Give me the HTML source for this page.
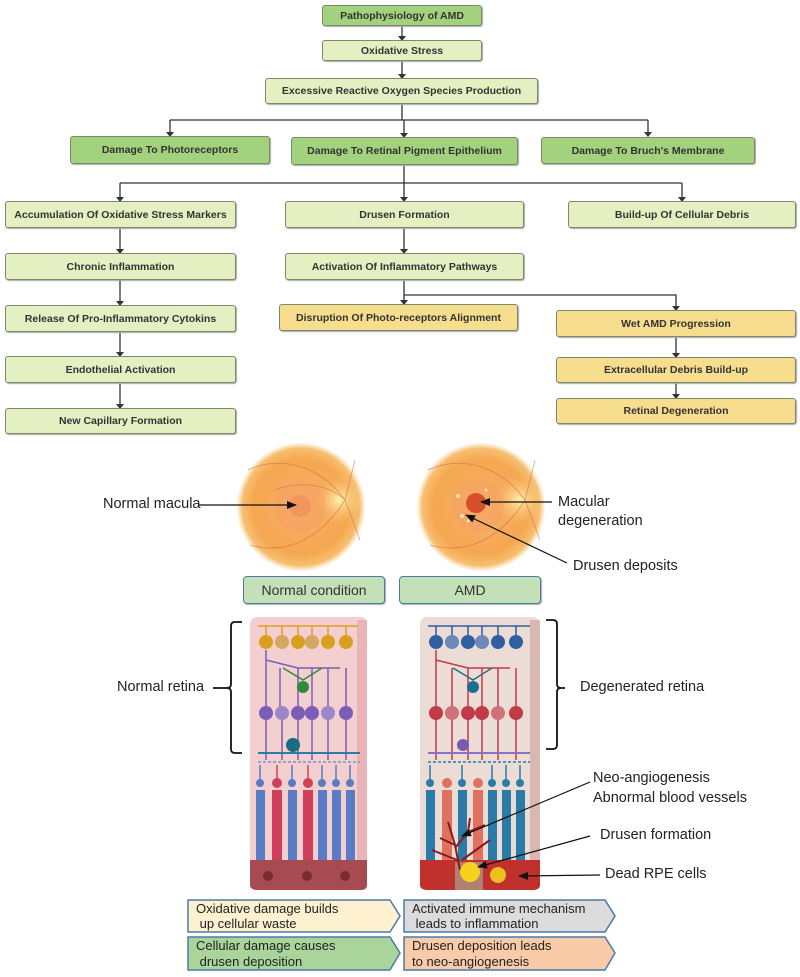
<!DOCTYPE html>
<html><head><meta charset="utf-8"><style>
body{margin:0;background:#fff;width:800px;height:977px;position:relative;overflow:hidden;font-family:"Liberation Sans",sans-serif}
.b{position:absolute;box-sizing:border-box;border:1.5px solid #7a8a6a;border-radius:3px;display:flex;align-items:center;justify-content:center;font-size:10.5px;font-weight:bold;color:#333;text-align:center;box-shadow:1px 1px 1px #aaa}
.g{background:#a3d27f}.l{background:#e4efc2}.y{background:#f7dd8e}
.t{position:absolute;font-size:14.5px;color:#222}
</style></head><body>
<svg width="800" height="977" style="position:absolute;left:0;top:0">
<defs>
<marker id="b" markerWidth="10" markerHeight="10" refX="9" refY="5" orient="auto" markerUnits="userSpaceOnUse"><path d="M0,1 L10,5 L0,9z" fill="#111"/></marker>
<radialGradient id="eye"><stop offset="0" stop-color="#f8b070"/><stop offset="0.75" stop-color="#f5a850"/><stop offset="0.92" stop-color="#f7bf72"/><stop offset="1" stop-color="#fbe0b0" stop-opacity="0.3"/></radialGradient>
<radialGradient id="disc"><stop offset="0" stop-color="#fff4b0"/><stop offset="1" stop-color="#f8c070" stop-opacity="0"/></radialGradient>
</defs>
<g stroke="#333" stroke-width="1.3" fill="none">
<path d="M402 26V40M402 61V78M402 104V120M170 120H648M170 120V136M404 120V137M648 120V136"/>
<path d="M404 165V183M120 183H682M120 183V201M404 183V201M682 183V201"/>
<path d="M120 228V253M120 280V305M120 332V356M120 383V408M404 228V253M404 280V304M404 295H676V310M676 337V357M676 383V398"/>
</g>
<g fill="#333"><path d="M398 36h8l-4 5zM398 74h8l-4 5zM166 132h8l-4 5zM400 133h8l-4 5zM644 132h8l-4 5zM116 197h8l-4 5zM400 197h8l-4 5zM678 197h8l-4 5zM116 249h8l-4 5zM116 301h8l-4 5zM116 352h8l-4 5zM116 404h8l-4 5zM400 249h8l-4 5zM400 300h8l-4 5zM672 306h8l-4 5zM672 353h8l-4 5zM672 394h8l-4 5z"/></g>

<!-- eyes -->
<g>
<circle cx="301" cy="507" r="64" fill="url(#eye)"/>
<circle cx="340" cy="500" r="24" fill="url(#disc)"/>
<circle cx="300" cy="506" r="26" fill="#f59a60" opacity=".35"/>
<circle cx="300" cy="506" r="11" fill="#f08a55" opacity=".6"/>
<g stroke="#d0603a" stroke-width="0.8" fill="none" opacity=".6"><path d="M345 500C320 465 280 455 248 470M345 500C320 540 285 555 250 545M345 500L355 460M345 500L360 540M345 500C330 485 300 480 275 490"/></g>
<circle cx="481" cy="507" r="64" fill="url(#eye)"/>
<circle cx="520" cy="500" r="24" fill="url(#disc)"/>
<circle cx="478" cy="506" r="26" fill="#f59a60" opacity=".35"/>
<circle cx="476" cy="503" r="10" fill="#d04020" opacity=".85"/>
<g fill="#fbe0c0"><circle cx="458" cy="496" r="2"/><circle cx="462" cy="516" r="2"/><circle cx="468" cy="521" r="1.5"/><circle cx="486" cy="490" r="1.5"/></g>
<g stroke="#d0603a" stroke-width="0.8" fill="none" opacity=".6"><path d="M525 500C500 465 460 455 428 470M525 500C500 540 465 555 430 545M525 500L535 460M525 500L540 540"/></g>
</g>
<g stroke="#111" stroke-width="1.8" fill="none"><path d="M242 622H235Q231 622 231 626V684Q231 688 227 688H213M227 688Q231 688 231 692V749Q231 753 235 753H242"/><path d="M546 620H553Q557 620 557 624V684Q557 688 561 688H565M561 688Q557 688 557 692V745Q557 749 553 749H546"/></g>

<!-- left retina -->
<path d="M250 625Q250 617 258 617H360Q367 617 367 625V885Q367 890 360 890H258Q250 890 250 885Z" fill="#f3cfd0"/>
<path d="M357 620H367V885Q367 890 360 890H357Z" fill="#e8b4b8"/>
<g stroke-width="1.5" fill="none">
<path d="M258 626H358" stroke="#d9a020"/>
<g stroke="#d9a020"><path d="M266 626V642M282 626V642M298 626V642M312 626V642M328 626V642M346 626V642"/></g>
<path d="M266 660L298 668H340M280 668V713M298 668V713M312 668V713M328 668V713M346 668V713M266 650V713" stroke="#7b5db8"/>
<path d="M283 668L303 680L322 668" stroke="#2e8b3a"/>
<path d="M266 713V760M282 713V760M298 713V760M312 713V760M328 713V760M346 713V760" stroke="#7b5db8"/>
<path d="M258 753H360" stroke="#2a7ba8" stroke-width="2"/>
<path d="M258 762H360" stroke="#8090c8" stroke-dasharray="3 2"/>
</g>
<g fill="#d9a020"><circle cx="266" cy="642" r="7"/><circle cx="282" cy="642" r="7" fill="#d4a860"/><circle cx="298" cy="642" r="7"/><circle cx="312" cy="642" r="7" fill="#d4a860"/><circle cx="328" cy="642" r="7"/><circle cx="346" cy="642" r="7"/></g>
<circle cx="303" cy="687" r="6" fill="#2e8b3a"/>
<g fill="#7b5db8"><circle cx="266" cy="713" r="7"/><circle cx="282" cy="713" r="7" fill="#9a88c8"/><circle cx="298" cy="713" r="7"/><circle cx="312" cy="713" r="7"/><circle cx="328" cy="713" r="7" fill="#9a88c8"/><circle cx="346" cy="713" r="7"/></g>
<circle cx="293" cy="745" r="7" fill="#176d82"/>
<g>
<g fill="#5a7cc4"><rect x="256" y="790" width="9" height="70"/><rect x="288" y="790" width="9" height="70"/><rect x="318" y="790" width="9" height="70"/><rect x="332" y="790" width="9" height="70"/><rect x="346" y="790" width="9" height="70"/>
<circle cx="260" cy="783" r="4"/><circle cx="292" cy="783" r="4"/><circle cx="322" cy="783" r="4"/><circle cx="336" cy="783" r="4"/><circle cx="350" cy="783" r="4"/></g>
<g fill="#d0405a"><rect x="272" y="790" width="10" height="70"/><rect x="303" y="790" width="10" height="70"/><circle cx="277" cy="783" r="5"/><circle cx="308" cy="783" r="5"/></g>
<g stroke="#5a7cc4" stroke-width="1.5"><path d="M260 765V780M292 765V780M322 765V780M336 765V780M350 765V780"/></g>
<g stroke="#d0405a" stroke-width="1.5"><path d="M277 765V780M308 765V780"/></g>
</g>
<path d="M250 860H367V885Q367 890 360 890H258Q250 890 250 885Z" fill="#a84a52"/>
<g fill="#7a2a32"><circle cx="268" cy="876" r="5"/><circle cx="307" cy="876" r="5"/><circle cx="345" cy="876" r="5"/></g>

<!-- right retina -->
<path d="M420 625Q420 617 428 617H532Q540 617 540 625V885Q540 890 532 890H428Q420 890 420 885Z" fill="#ecdcd6"/>
<path d="M530 620H540V885Q540 890 532 890H530Z" fill="#d8b8b0"/>
<g stroke-width="1.5" fill="none">
<path d="M428 626H530" stroke="#2f5f9e"/>
<g stroke="#2f5f9e"><path d="M436 626V642M452 626V642M468 626V642M482 626V642M498 626V642M516 626V642"/></g>
<path d="M453 668L473 680L492 668" stroke="#1d6f8a"/>
<path d="M436 650V760M452 668V760M468 668V760M482 668V760M498 668V760M516 668V760M436 660L468 668H510" stroke="#c03a48"/>
<path d="M428 753H530" stroke="#8a70c0" stroke-width="2"/>
<path d="M428 762H530" stroke="#2a7ba8" stroke-dasharray="3 2"/>
</g>
<g fill="#2f5f9e"><circle cx="436" cy="642" r="7"/><circle cx="452" cy="642" r="7" fill="#6a88b8"/><circle cx="468" cy="642" r="7"/><circle cx="482" cy="642" r="7" fill="#6a88b8"/><circle cx="498" cy="642" r="7"/><circle cx="516" cy="642" r="7"/></g>
<circle cx="473" cy="687" r="6" fill="#1d6f8a"/>
<g fill="#c03a48"><circle cx="436" cy="713" r="7"/><circle cx="452" cy="713" r="7" fill="#d07078"/><circle cx="468" cy="713" r="7"/><circle cx="482" cy="713" r="7"/><circle cx="498" cy="713" r="7" fill="#d07078"/><circle cx="516" cy="713" r="7"/></g>
<circle cx="463" cy="745" r="6" fill="#7a5ab0"/>
<g>
<g fill="#2a7ba8"><rect x="426" y="790" width="9" height="70"/><rect x="458" y="790" width="9" height="70"/><rect x="488" y="790" width="9" height="70"/><rect x="502" y="790" width="9" height="70"/><rect x="516" y="790" width="9" height="70"/>
<circle cx="430" cy="783" r="4"/><circle cx="462" cy="783" r="4"/><circle cx="492" cy="783" r="4"/><circle cx="506" cy="783" r="4"/><circle cx="520" cy="783" r="4"/></g>
<g fill="#e07060"><rect x="442" y="790" width="10" height="70"/><rect x="473" y="790" width="10" height="70"/><circle cx="447" cy="783" r="5"/><circle cx="478" cy="783" r="5"/></g>
<g stroke="#2a7ba8" stroke-width="1.5"><path d="M430 765V780M462 765V780M492 765V780M506 765V780M520 765V780"/></g>
</g>
<path d="M420 860H540V885Q540 890 532 890H428Q420 890 420 885Z" fill="#c0302c"/>
<rect x="455" y="862" width="28" height="28" fill="#b08070"/>
<g stroke="#8a1a1a" stroke-width="2" fill="none"><path d="M460 870L455 845L448 822M455 845L440 838M455 848L468 832L470 818M468 832L485 825M457 860L432 850M462 860L490 840"/></g>
<circle cx="470" cy="872" r="10" fill="#f8d020"/><circle cx="498" cy="875" r="8" fill="#f0c020"/>

<g stroke="#111" stroke-width="1.2" fill="none">
<path d="M198 505H296" marker-end="url(#b)"/>
<path d="M552 502H481" marker-end="url(#b)"/>
<path d="M567 563L466 515" marker-end="url(#b)"/>
<path d="M590 782L462 836" marker-end="url(#b)"/>
<path d="M590 836L478 867" marker-end="url(#b)"/>
<path d="M600 875L519 876" marker-end="url(#b)"/>
</g>

<g stroke="#4a7aa8" stroke-width="1.5">
<path d="M188 900H390L400 916L390 932H188Z" fill="#fdf1cf"/><path d="M404 900H605L615 916L605 932H404Z" fill="#dcdcdc"/>
<path d="M188 937H390L400 953L390 970H188Z" fill="#a9d49a"/><path d="M404 937H605L615 953L605 970H404Z" fill="#f9cba8"/>
</g>
</svg>
<div class="b g" style="left:322px;top:5px;width:160px;height:21px">Pathophysiology of AMD</div>
<div class="b l" style="left:322px;top:40px;width:160px;height:21px">Oxidative Stress</div>
<div class="b l" style="left:265px;top:78px;width:273px;height:26px">Excessive Reactive Oxygen Species Production</div>
<div class="b g" style="left:70px;top:136px;width:200px;height:28px">Damage To Photoreceptors</div>
<div class="b g" style="left:291px;top:137px;width:227px;height:28px">Damage To Retinal Pigment Epithelium</div>
<div class="b g" style="left:541px;top:137px;width:214px;height:27px">Damage To Bruch's Membrane</div>
<div class="b l" style="left:5px;top:201px;width:231px;height:27px">Accumulation Of Oxidative Stress Markers</div>
<div class="b l" style="left:285px;top:201px;width:239px;height:27px">Drusen Formation</div>
<div class="b l" style="left:568px;top:201px;width:228px;height:27px">Build-up Of Cellular Debris</div>
<div class="b l" style="left:5px;top:253px;width:231px;height:27px">Chronic Inflammation</div>
<div class="b l" style="left:285px;top:253px;width:239px;height:27px">Activation Of Inflammatory Pathways</div>
<div class="b l" style="left:5px;top:305px;width:231px;height:27px">Release Of Pro-Inflammatory Cytokins</div>
<div class="b y" style="left:279px;top:304px;width:239px;height:27px">Disruption Of Photo-receptors Alignment</div>
<div class="b y" style="left:556px;top:310px;width:240px;height:27px">Wet AMD Progression</div>
<div class="b l" style="left:5px;top:356px;width:231px;height:27px">Endothelial Activation</div>
<div class="b y" style="left:556px;top:357px;width:240px;height:26px">Extracellular Debris Build-up</div>
<div class="b l" style="left:5px;top:408px;width:231px;height:26px">New Capillary Formation</div>
<div class="b y" style="left:556px;top:398px;width:240px;height:26px">Retinal Degeneration</div>
<div class="t" style="left:103px;top:496px">Normal macula</div>
<div class="t" style="left:558px;top:493px;line-height:19px">Macular<br>degeneration</div>
<div class="t" style="left:573px;top:558px">Drusen deposits</div>
<div class="b" style="left:243px;top:576px;width:142px;height:28px;background:#c3e0b8;border-color:#4a7aa8;font-weight:normal;font-size:14px;border-radius:4px">Normal condition</div>
<div class="b" style="left:399px;top:576px;width:142px;height:28px;background:#c3e0b8;border-color:#4a7aa8;font-weight:normal;font-size:14px;border-radius:4px">AMD</div>
<div class="t" style="left:117px;top:679px">Normal retina</div>
<div class="t" style="left:580px;top:679px">Degenerated retina</div>
<div class="t" style="left:593px;top:768px;line-height:20px">Neo-angiogenesis<br>Abnormal blood vessels</div>
<div class="t" style="left:600px;top:827px">Drusen formation</div>
<div class="t" style="left:605px;top:866px">Dead RPE cells</div>
<div class="t" style="left:196px;top:901px;font-size:13px;line-height:15px">Oxidative damage builds<br>&nbsp;up cellular waste</div>
<div class="t" style="left:412px;top:901px;font-size:13px;line-height:15px">Activated immune mechanism<br>&nbsp;leads to inflammation</div>
<div class="t" style="left:196px;top:938px;font-size:13px;line-height:16px">Cellular damage causes<br>&nbsp;drusen deposition</div>
<div class="t" style="left:412px;top:938px;font-size:13px;line-height:16px">Drusen deposition leads<br>to neo-angiogenesis</div>
</body></html>
